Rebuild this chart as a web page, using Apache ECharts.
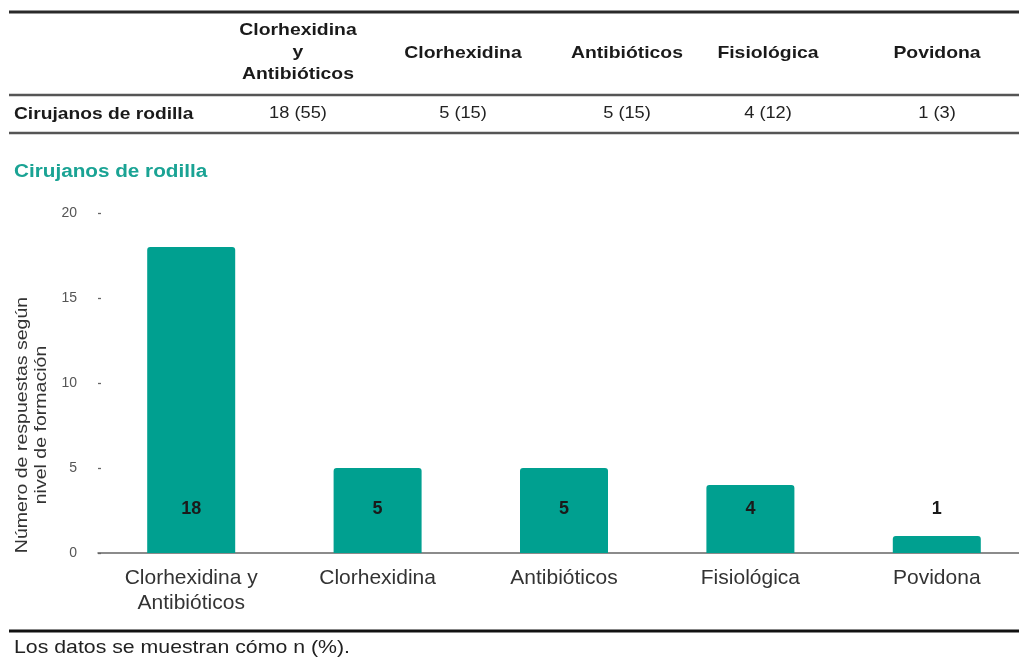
<!DOCTYPE html>
<html>
<head>
<meta charset="utf-8">
<script src="https://cdn.jsdelivr.net/npm/echarts@6/dist/echarts.min.js"></script>
<style>
html,body{margin:0;padding:0;background:#fff;}
#chart{width:1019px;height:659px;}
</style>
</head>
<body>
<div id="chart"></div>
<script>
// ---- data ----
var categories = ['Clorhexidina y\nAntibióticos', 'Clorhexidina', 'Antibióticos', 'Fisiológica', 'Povidona'];
var tableHeaders = ['Clorhexidina\ny\nAntibióticos', 'Clorhexidina', 'Antibióticos', 'Fisiológica', 'Povidona'];
var counts = [18, 5, 5, 4, 1];
var percents = [55, 15, 15, 12, 3];
var rowLabel = 'Cirujanos de rodilla';
var chartTitle = 'Cirujanos de rodilla';
var yAxisName = 'Número de respuestas según\nnivel de formación';
var footnote = 'Los datos se muestran cómo n (%).';
var yTicks = [0, 5, 10, 15, 20];

// ---- layout ----
var FONT = '"Liberation Sans", Arial, Helvetica, sans-serif';
var colX = [298, 463, 627, 768, 937];
var TEAL = '#00A090';
var SX = 1.14;

var graphics = [];
function hline(y, w, color) {
  graphics.push({type: 'line', shape: {x1: 9, y1: y, x2: 1019, y2: y}, style: {stroke: color, lineWidth: w}, silent: true});
}
hline(12, 3, '#2a2a2a');
hline(95, 2.5, '#555');
hline(133, 2.5, '#555');
hline(631, 3, '#111');

tableHeaders.forEach(function (h, i) {
  graphics.push({type: 'text', x: colX[i], y: h.indexOf('\n') >= 0 ? 52 : 53, scaleX: SX,
    style: {text: h, font: 'bold 17px ' + FONT, fill: '#1a1a1a', align: 'center', verticalAlign: 'middle', lineHeight: 22}});
  graphics.push({type: 'text', x: colX[i], y: 114, scaleX: SX,
    style: {text: counts[i] + ' (' + percents[i] + ')', font: '16px ' + FONT, fill: '#222', align: 'center', verticalAlign: 'middle'}});
});
graphics.push({type: 'text', x: 14, y: 114, scaleX: 1.13,
  style: {text: rowLabel, font: 'bold 17px ' + FONT, fill: '#1a1a1a', align: 'left', verticalAlign: 'middle'}});
graphics.push({type: 'text', x: 14, y: 172, scaleX: 1.15,
  style: {text: chartTitle, font: 'bold 18px ' + FONT, fill: '#1aa394', align: 'left', verticalAlign: 'middle'}});
graphics.push({type: 'text', x: 32, y: 425, rotation: Math.PI / 2, scaleX: 1.15,
  style: {text: yAxisName, font: '17px ' + FONT, fill: '#333', align: 'center', verticalAlign: 'middle', lineHeight: 19}});
graphics.push({type: 'text', x: 14, y: 648, scaleX: 1.12,
  style: {text: footnote, font: '19px ' + FONT, fill: '#222', align: 'left', verticalAlign: 'middle'}});

var chart = echarts.init(document.getElementById('chart'), null, {renderer: 'canvas'});
chart.setOption({
  animation: false,
  backgroundColor: '#fff',
  textStyle: {fontFamily: FONT},
  grid: {left: 98, width: 932, top: 213, bottom: 106, containLabel: false, outerBoundsMode: 'none'},
  xAxis: {
    type: 'category',
    data: categories,
    axisLine: {lineStyle: {color: '#666', width: 1.5}},
    axisTick: {show: false},
    axisLabel: {fontSize: 21, color: '#333', margin: 13, lineHeight: 25, fontFamily: FONT}
  },
  yAxis: {
    type: 'value',
    min: yTicks[0],
    max: yTicks[yTicks.length - 1],
    interval: 5,
    splitLine: {show: false},
    axisLine: {show: false},
    axisTick: {show: true, inside: true, length: 3, lineStyle: {color: '#666', width: 1.3}},
    axisLabel: {fontSize: 14, color: '#555', margin: 21, fontFamily: FONT}
  },
  series: [{
    type: 'bar',
    data: counts,
    barWidth: 88,
    itemStyle: {color: TEAL, borderRadius: [3, 3, 0, 0]},
    label: {show: true, position: 'insideBottom', distance: 35, fontSize: 18, fontWeight: 'bold', color: '#1a1a1a', fontFamily: FONT}
  }],
  graphic: graphics
});
</script>
</body>
</html>
